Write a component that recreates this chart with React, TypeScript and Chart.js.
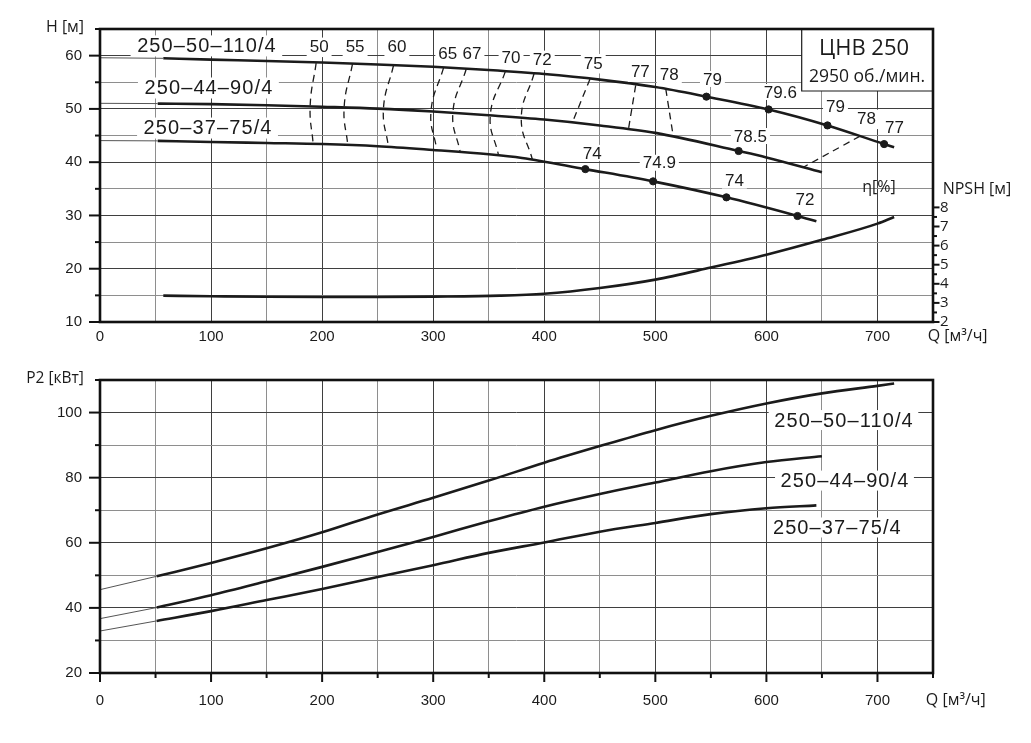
import React, { useEffect, useRef } from "react";
import { Chart, registerables } from "chart.js";

Chart.register(...registerables);

// ---------- top panel: H(Q), м ----------
const q110 = [57, 100, 150, 200, 250, 300, 350, 400, 450, 500, 546, 602, 655, 706, 715];
const h110 = [59.5, 59.25, 59.0, 58.7, 58.35, 57.9, 57.3, 56.55, 55.5, 54.1, 52.3, 49.9, 46.9, 43.4, 42.8];
const q90 = [52, 100, 150, 200, 250, 300, 350, 400, 450, 500, 575, 600, 650];
const h90 = [51.0, 50.9, 50.7, 50.4, 50.05, 49.5, 48.8, 48.0, 46.9, 45.5, 42.1, 40.9, 38.1];
const q75 = [52, 100, 150, 200, 250, 300, 350, 380, 437, 498, 564, 628, 645];
const h75 = [44.0, 43.8, 43.6, 43.4, 43.0, 42.3, 41.5, 40.8, 38.7, 36.4, 33.4, 29.9, 28.9];

// thin extrapolated starts of the curves
const qExt110 = [0, 57];
const hExt110 = [59.6, 59.5];
const qExt90 = [0, 52];
const hExt90 = [51.05, 51.0];
const qExt75 = [0, 52];
const hExt75 = [44.05, 44.0];

// efficiency points on the curves
const qDot110 = [546, 602, 655, 706];
const hDot110 = [52.3, 49.9, 46.9, 43.4];
const qDot90 = [575];
const hDot90 = [42.1];
const qDot75 = [437, 498, 564, 628];
const hDot75 = [38.7, 36.4, 33.4, 29.9];

// iso-efficiency dashed lines (top -> bottom)
const isoNames = ["50", "55", "60", "65", "67", "70", "72", "75", "77", "78", "78"];
const isoQ = [
  [194.6, 189.2, 191.9],
  [227.3, 219.8, 223.1],
  [264.2, 255.2, 259.7],
  [309.3, 298.0, 303.3],
  [329.7, 317.7, 324.3],
  [364.9, 351.4, 358.8],
  [390.8, 379.3, 389.3],
  [441.2, 425.3],
  [482.3, 475.8],
  [509.4, 516.1],
  [684.4, 633.2],
];
const isoH = [
  [58.6, 50.45, 43.45],
  [58.4, 50.25, 43.2],
  [58.1, 50.0, 42.85],
  [57.7, 49.5, 42.25],
  [57.45, 49.25, 41.85],
  [57.0, 48.8, 41.3],
  [56.6, 48.3, 40.5],
  [55.6, 47.45],
  [54.4, 46.2],
  [53.75, 44.9],
  [44.9, 39.05],
];

// NPSH(Q), м (right axis)
const qNpsh = [57, 100, 150, 200, 250, 300, 360, 400, 450, 500, 550, 600, 650, 700, 715];
const npsh = [3.38, 3.35, 3.32, 3.31, 3.31, 3.33, 3.38, 3.48, 3.78, 4.22, 4.85, 5.52, 6.3, 7.15, 7.5];

// ---------- bottom panel: P2(Q), кВт ----------
const qP110 = [51, 100, 150, 200, 250, 300, 350, 400, 450, 500, 550, 600, 650, 700, 715];
const p110 = [49.7, 53.8, 58.3, 63.2, 68.7, 73.8, 79.1, 84.6, 89.7, 94.6, 99.0, 102.8, 105.9, 108.2, 108.9];
const qP90 = [51, 100, 150, 200, 250, 300, 350, 400, 450, 500, 550, 600, 650];
const p90 = [40.1, 43.9, 48.2, 52.6, 57.2, 61.8, 66.6, 71.1, 75.0, 78.5, 82.0, 84.8, 86.6];
const qP75 = [51, 100, 150, 200, 250, 300, 350, 400, 450, 500, 550, 600, 645];
const p75 = [36.0, 39.0, 42.4, 45.8, 49.5, 53.1, 56.9, 60.1, 63.4, 66.1, 68.8, 70.6, 71.5];
const qPExt = [0, 51];
const pExt110 = [45.6, 49.7];
const pExt90 = [36.7, 40.1];
const pExt75 = [32.9, 36.0];

const pumpNames = ["250–50–110/4", "250–44–90/4", "250–37–75/4"];

// ---------- text notes (data coordinates) ----------
const isoNotes = [
  { t: "50", q: 197.3, h: 61.7 },
  { t: "55", q: 229.7, h: 61.7 },
  { t: "60", q: 267.3, h: 61.7 },
  { t: "65", q: 313.1, h: 60.45 },
  { t: "67", q: 334.9, h: 60.45 },
  { t: "70", q: 370.1, h: 59.66 },
  { t: "72", q: 398.2, h: 59.25 },
  { t: "75", q: 444.1, h: 58.63 },
  { t: "77", q: 486.5, h: 57.05 },
  { t: "78", q: 512.6, h: 56.43 },
  { t: "78", q: 690.1, h: 48.18 },
];
const etaNotes = [
  { t: "79", q: 551.4, h: 55.62 },
  { t: "79.6", q: 612.6, h: 53.18 },
  { t: "79", q: 662.2, h: 50.47 },
  { t: "77", q: 715.3, h: 46.6 },
  { t: "78.5", q: 585.6, h: 44.91 },
  { t: "74", q: 443.2, h: 41.75 },
  { t: "74.9", q: 503.6, h: 39.89 },
  { t: "74", q: 571.2, h: 36.54 },
  { t: "72", q: 634.7, h: 33.1 },
];
const topNameNotes = [
  { q: 95.8, h: 61.92 },
  { q: 97.6, h: 54.02 },
  { q: 96.8, h: 46.5 },
];
const bottomNameNotes = [
  { q: 669.4, p: 97.7 },
  { q: 670.3, p: 79.1 },
  { q: 663.4, p: 64.7 },
];

const ARIAL = '"Liberation Sans", Arial, Helvetica, sans-serif';
const HUMAN = '"Open Sans", "Noto Sans", sans-serif';
const INK = "#1b1b1b";
const GRID_MAJOR = "#3f3f3f";
const GRID_MINOR = "#8e8e8e";

const pts = (xs: number[], ys: number[]) => xs.map((x, i) => ({ x, y: ys[i] }));
const range = (a: number, b: number, s: number) => {
  const out: number[] = [];
  for (let v = a; v <= b + 1e-9; v += s) out.push(Math.round(v * 100) / 100);
  return out;
};

function boxedText(
  ctx: CanvasRenderingContext2D,
  text: string,
  cx: number,
  cy: number,
  font: string,
  spacing = 0,
  padX = 3,
  padTop = 9,
  padBottom = 10
) {
  ctx.font = font;
  (ctx as any).letterSpacing = `${spacing}px`;
  const w = ctx.measureText(text).width;
  ctx.fillStyle = "#fff";
  ctx.fillRect(cx - w / 2 - padX, cy - padTop, w + 2 * padX, padTop + padBottom);
  ctx.fillStyle = INK;
  ctx.textAlign = "center";
  ctx.textBaseline = "middle";
  ctx.fillText(text, cx + spacing / 2, cy + 1);
  (ctx as any).letterSpacing = "0px";
}

function plainText(ctx: CanvasRenderingContext2D, text: string, cx: number, cy: number, font: string) {
  ctx.font = font;
  ctx.fillStyle = INK;
  ctx.textAlign = "center";
  ctx.textBaseline = "middle";
  ctx.fillText(text, cx, cy);
}

function tickMark(ctx: CanvasRenderingContext2D, x1: number, y1: number, x2: number, y2: number) {
  ctx.beginPath();
  ctx.moveTo(x1, y1);
  ctx.lineTo(x2, y2);
  ctx.stroke();
}

const thin = (xs: number[], ys: number[]) => ({
  data: pts(xs, ys),
  borderColor: "#555",
  borderWidth: 1,
  pointRadius: 0,
  tension: 0,
  yAxisID: "y",
});
const thick = (xs: number[], ys: number[], axis = "y") => ({
  data: pts(xs, ys),
  borderColor: INK,
  borderWidth: 2.6,
  pointRadius: 0,
  cubicInterpolationMode: "monotone" as const,
  yAxisID: axis,
});
const dots = (xs: number[], ys: number[]) => ({
  data: pts(xs, ys),
  showLine: false,
  pointRadius: 3.6,
  pointBackgroundColor: INK,
  pointBorderColor: INK,
  yAxisID: "y",
});

const gridColor = (step: number) => (c: any) =>
  c.tick && Math.abs(c.tick.value % step) < 1e-6 ? GRID_MAJOR : GRID_MINOR;

const NAME_FONT = `20px ${ARIAL}`;
const NAME_SPACING = 1.1;

const topPlugin = {
  id: "topPanel",
  afterDatasetsDraw(chart: any) {
    const { ctx, chartArea, scales } = chart;
    const x = scales.x;
    const y = scales.y;
    ctx.save();
    pumpNames.forEach((name, i) => {
      const n = topNameNotes[i];
      boxedText(ctx, name, x.getPixelForValue(n.q), y.getPixelForValue(n.h), NAME_FONT, NAME_SPACING, 6, 10, 11);
    });
    isoNotes.forEach((n) =>
      boxedText(ctx, n.t, x.getPixelForValue(n.q), y.getPixelForValue(n.h), `17px ${ARIAL}`, 0, 3, 9, 10.5)
    );
    etaNotes.forEach((n) =>
      boxedText(ctx, n.t, x.getPixelForValue(n.q), y.getPixelForValue(n.h), `17px ${ARIAL}`, 0, 3, 8, 8)
    );
    // title box
    const bx = 801.7;
    const by = 91;
    ctx.fillStyle = "#fff";
    ctx.fillRect(bx, chartArea.top, chartArea.right - bx, by - chartArea.top);
    ctx.strokeStyle = INK;
    ctx.lineWidth = 1.2;
    ctx.beginPath();
    ctx.moveTo(bx, chartArea.top);
    ctx.lineTo(bx, by);
    ctx.lineTo(chartArea.right, by);
    ctx.stroke();
    plainText(ctx, "ЦНВ 250", 864, 49, `22px ${HUMAN}`);
    plainText(ctx, "2950 об./мин.", 867, 77.5, `17.5px ${HUMAN}`);
    ctx.restore();
  },
  afterDraw(chart: any) {
    const { ctx, chartArea, scales } = chart;
    ctx.save();
    ctx.strokeStyle = "#111";
    ctx.lineWidth = 2;
    range(10, 65, 5).forEach((v) => {
      const py = scales.y.getPixelForValue(v);
      tickMark(ctx, chartArea.left - (v % 10 === 0 ? 11 : 5), py, chartArea.left, py);
    });
    range(2, 8, 0.5).forEach((v) => {
      const py = scales.y2.getPixelForValue(v);
      tickMark(ctx, chartArea.right, py, chartArea.right + (Number.isInteger(v) ? 6.5 : 4), py);
    });
    ctx.lineWidth = 2.6;
    ctx.strokeRect(chartArea.left, chartArea.top, chartArea.right - chartArea.left, chartArea.bottom - chartArea.top);
    plainText(ctx, "H [м]", 65, 27, `16px ${HUMAN}`);
    plainText(ctx, "Q [м³/ч]", 957.6, 336.5, `16px ${HUMAN}`);
    plainText(ctx, "NPSH [м]", 977, 189, `16px ${HUMAN}`);
    plainText(ctx, "η[%]", 879, 187, `16px ${HUMAN}`);
    ctx.restore();
  },
};

const bottomPlugin = {
  id: "bottomPanel",
  afterDatasetsDraw(chart: any) {
    const { ctx, scales } = chart;
    ctx.save();
    pumpNames.forEach((name, i) => {
      const n = bottomNameNotes[i];
      boxedText(ctx, name, scales.x.getPixelForValue(n.q), scales.y.getPixelForValue(n.p), NAME_FONT, NAME_SPACING, 5, 10, 10);
    });
    ctx.restore();
  },
  afterDraw(chart: any) {
    const { ctx, chartArea, scales } = chart;
    ctx.save();
    ctx.strokeStyle = "#111";
    ctx.lineWidth = 2;
    range(20, 110, 10).forEach((v) => {
      const py = scales.y.getPixelForValue(v);
      tickMark(ctx, chartArea.left - (v % 20 === 0 ? 11 : 5), py, chartArea.left, py);
    });
    range(0, 750, 50).forEach((v) => {
      const px = scales.x.getPixelForValue(v);
      tickMark(ctx, px, chartArea.bottom, px, chartArea.bottom + (v % 100 === 0 ? 9 : 5));
    });
    ctx.lineWidth = 2.6;
    ctx.strokeRect(chartArea.left, chartArea.top, chartArea.right - chartArea.left, chartArea.bottom - chartArea.top);
    plainText(ctx, "P2 [кВт]", 55, 29, `15.5px ${HUMAN}`);
    plainText(ctx, "Q [м³/ч]", 955.8, 350, `16px ${HUMAN}`);
    ctx.restore();
  },
};

const tickFont = { family: ARIAL, size: 15 };

const HeadChart = () => {
  const ref = useRef<HTMLCanvasElement>(null);
  useEffect(() => {
    if (!ref.current) return;
    const chart = new Chart(ref.current, {
      type: "line",
      data: {
        datasets: [
          thin(qExt110, hExt110),
          thin(qExt90, hExt90),
          thin(qExt75, hExt75),
          thick(q110, h110),
          thick(q90, h90),
          thick(q75, h75),
          thick(qNpsh, npsh, "y2"),
          ...isoNames.map((_, i) => ({
            data: pts(isoQ[i], isoH[i]),
            borderColor: INK,
            borderWidth: 1.3,
            borderDash: [7, 5],
            pointRadius: 0,
            tension: 0.45,
            yAxisID: "y",
          })),
          dots(qDot110, hDot110),
          dots(qDot90, hDot90),
          dots(qDot75, hDot75),
        ] as any,
      },
      options: {
        animation: false,
        responsive: false,
        events: [],
        layout: { padding: { top: 29, left: 0, right: 0, bottom: 0 } },
        plugins: { legend: { display: false }, tooltip: { enabled: false } },
        scales: {
          x: {
            type: "linear",
            min: 0,
            max: 750,
            afterBuildTicks: (s: any) => {
              s.ticks = range(0, 750, 50).map((value) => ({ value }));
            },
            afterFit: (s: any) => {
              s.height = 28;
            },
            grid: { color: gridColor(100), lineWidth: 1, drawTicks: false },
            border: { display: false },
            ticks: {
              autoSkip: false,
              maxRotation: 0,
              padding: 6,
              color: INK,
              font: tickFont,
              callback: (v: any) => (v % 100 === 0 && v <= 700 ? String(v) : ""),
            },
          },
          y: {
            type: "linear",
            min: 10,
            max: 65,
            afterBuildTicks: (s: any) => {
              s.ticks = range(10, 65, 5).map((value) => ({ value }));
            },
            afterFit: (s: any) => {
              s.width = 100;
            },
            grid: { color: gridColor(10), lineWidth: 1, drawTicks: false },
            border: { display: false },
            ticks: {
              padding: 18,
              color: INK,
              font: tickFont,
              callback: (v: any) => (v % 10 === 0 && v <= 60 ? String(v) : ""),
            },
          },
          y2: {
            type: "linear",
            position: "right",
            min: 2,
            max: 17.34,
            afterBuildTicks: (s: any) => {
              s.ticks = range(2, 8, 0.5).map((value) => ({ value }));
            },
            afterFit: (s: any) => {
              s.width = 98;
            },
            grid: { display: false, drawTicks: false },
            border: { display: false },
            ticks: {
              padding: 7,
              color: INK,
              font: { family: HUMAN, size: 15 },
              callback: (v: any) => (Number.isInteger(v) ? String(v) : ""),
            },
          },
        },
      },
      plugins: [topPlugin],
    });
    return () => chart.destroy();
  }, []);
  return <canvas ref={ref} width={1031} height={350} style={{ position: "absolute", left: 0, top: 0 }} />;
};

const PowerChart = () => {
  const ref = useRef<HTMLCanvasElement>(null);
  useEffect(() => {
    if (!ref.current) return;
    const chart = new Chart(ref.current, {
      type: "line",
      data: {
        datasets: [
          thin(qPExt, pExt110),
          thin(qPExt, pExt90),
          thin(qPExt, pExt75),
          thick(qP110, p110),
          thick(qP90, p90),
          thick(qP75, p75),
        ] as any,
      },
      options: {
        animation: false,
        responsive: false,
        events: [],
        layout: { padding: { top: 30, left: 0, right: 98, bottom: 0 } },
        plugins: { legend: { display: false }, tooltip: { enabled: false } },
        scales: {
          x: {
            type: "linear",
            min: 0,
            max: 750,
            afterBuildTicks: (s: any) => {
              s.ticks = range(0, 750, 50).map((value) => ({ value }));
            },
            afterFit: (s: any) => {
              s.height = 70;
            },
            grid: { color: gridColor(100), lineWidth: 1, drawTicks: false },
            border: { display: false },
            ticks: {
              autoSkip: false,
              maxRotation: 0,
              padding: 18.5,
              color: INK,
              font: tickFont,
              callback: (v: any) => (v % 100 === 0 && v <= 700 ? String(v) : ""),
            },
          },
          y: {
            type: "linear",
            min: 20,
            max: 110,
            afterBuildTicks: (s: any) => {
              s.ticks = range(20, 110, 10).map((value) => ({ value }));
            },
            afterFit: (s: any) => {
              s.width = 100;
            },
            grid: { color: gridColor(20), lineWidth: 1, drawTicks: false },
            border: { display: false },
            ticks: {
              padding: 18,
              color: INK,
              font: tickFont,
              callback: (v: any) => (v % 20 === 0 && v <= 100 ? String(v) : ""),
            },
          },
        },
      },
      plugins: [bottomPlugin],
    });
    return () => chart.destroy();
  }, []);
  return <canvas ref={ref} width={1031} height={393} style={{ position: "absolute", left: 0, top: 350 }} />;
};

export default function App() {
  return (
    <div style={{ position: "absolute", left: 0, top: 0, width: 1031, height: 743, background: "#fff", overflow: "hidden" }}>
      <HeadChart />
      <PowerChart />
    </div>
  );
}
